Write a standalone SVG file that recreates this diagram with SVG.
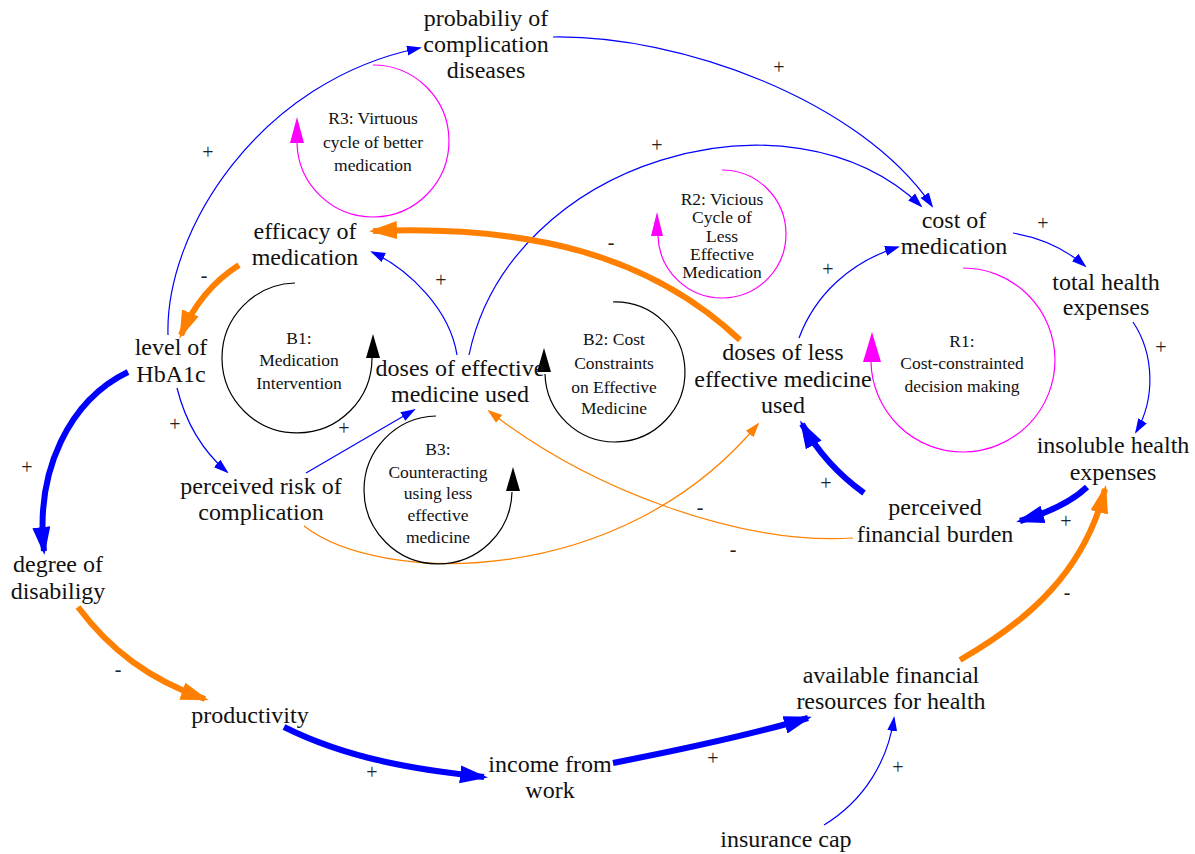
<svg xmlns="http://www.w3.org/2000/svg" width="1195" height="854" viewBox="0 0 1195 854">
<defs>
<style>
text{font-family:'Liberation Serif','Tinos','DejaVu Serif','Noto Serif',serif}
.n{font-size:24px;fill:#111;text-anchor:middle}
.l{font-size:17.5px;fill:#111;text-anchor:middle}
.s{font-size:20px;fill:#222;text-anchor:middle}
.bt{fill:none;stroke:#0000FF;stroke-width:1.2}
.bk{fill:none;stroke:#0000FF;stroke-width:6}
.ot{fill:none;stroke:#FF8000;stroke-width:1.2}
.ok{fill:none;stroke:#FF8000;stroke-width:6}
.lm{fill:none;stroke:#FF00FF;stroke-width:1.2}
.lk{fill:none;stroke:#000;stroke-width:1.2}
</style>
<marker id="hbt" markerUnits="userSpaceOnUse" markerWidth="16" markerHeight="12" refX="13" refY="5" orient="auto"><path d="M0,0 L15,5 L0,10 z" fill="#0000FF"/></marker>
<marker id="hot" markerUnits="userSpaceOnUse" markerWidth="16" markerHeight="12" refX="13" refY="5" orient="auto"><path d="M0,0 L15,5 L0,10 z" fill="#FF8000"/></marker>
<marker id="hbk" markerUnits="userSpaceOnUse" markerWidth="30" markerHeight="20" refX="24" refY="9" orient="auto"><path d="M0,0 L28,9 L0,18 z" fill="#0000FF"/></marker>
<marker id="hok" markerUnits="userSpaceOnUse" markerWidth="30" markerHeight="20" refX="24" refY="9" orient="auto"><path d="M0,0 L28,9 L0,18 z" fill="#FF8000"/></marker>
</defs>
<rect width="1195" height="854" fill="#fff"/>

<g id="connectors">
<path class="bt" marker-end="url(#hbt)" d="M168,335 C165,230 260,80 420,48"/>
<path class="bt" marker-end="url(#hbt)" d="M553,37 C680,35 860,100 932,206"/>
<path class="bt" marker-end="url(#hbt)" d="M469,355 C510,160 790,80 921,206"/>
<path class="bt" marker-end="url(#hbt)" d="M799,338 C815,295 850,262 898,247"/>
<path class="bt" marker-end="url(#hbt)" d="M1013,233 Q1055,240 1085,266"/>
<path class="bt" marker-end="url(#hbt)" d="M1133,322 C1155,355 1155,400 1136,432"/>
<path class="bk" marker-end="url(#hbk)" d="M1087,487 Q1065,508 1020,521"/>
<path class="bk" marker-end="url(#hbk)" d="M864,493 Q825,465 802,424"/>
<path class="ot" marker-end="url(#hot)" d="M853,538 C740,545 590,490 489,411"/>
<path class="ot" marker-end="url(#hot)" d="M304,526 C380,585 620,590 758,424"/>
<path class="bt" marker-end="url(#hbt)" d="M306,473 L414,410"/>
<path class="bt" marker-end="url(#hbt)" d="M177,388 Q190,440 227,472"/>
<path class="bt" marker-end="url(#hbt)" d="M457,355 C450,310 410,270 372,252"/>
<path class="ok" marker-end="url(#hok)" d="M740,340 C650,255 530,225 373,231"/>
<path class="ok" marker-end="url(#hok)" d="M239,265 Q200,290 181,335"/>
<path class="bk" marker-end="url(#hbk)" d="M128,372 C70,400 35,470 44,551"/>
<path class="ok" marker-end="url(#hok)" d="M78,607 C110,650 150,680 205,699"/>
<path class="bk" marker-end="url(#hbk)" d="M284,727 C350,760 420,770 484,777"/>
<path class="bk" marker-end="url(#hbk)" d="M613,763 C690,748 750,735 808,718"/>
<path class="bt" marker-end="url(#hbt)" d="M824,825 C865,800 888,760 894,718"/>
<path class="ok" marker-end="url(#hok)" d="M960,660 C1030,620 1085,570 1105,489"/>
</g>

<g id="polarity">
<text class="s" x="208" y="159">+</text>
<text class="s" x="779" y="74">+</text>
<text class="s" x="657" y="152">+</text>
<text class="s" x="611" y="249">-</text>
<text class="s" x="441" y="287">+</text>
<text class="s" x="204" y="282">-</text>
<text class="s" x="1043" y="230">+</text>
<text class="s" x="828" y="276">+</text>
<text class="s" x="1161" y="354">+</text>
<text class="s" x="175" y="431">+</text>
<text class="s" x="344" y="435">+</text>
<text class="s" x="27" y="474">+</text>
<text class="s" x="826" y="490">+</text>
<text class="s" x="1066" y="528">+</text>
<text class="s" x="700" y="514">-</text>
<text class="s" x="733" y="556">-</text>
<text class="s" x="1067" y="599">-</text>
<text class="s" x="118" y="676">-</text>
<text class="s" x="372" y="779">+</text>
<text class="s" x="713" y="765">+</text>
<text class="s" x="898" y="774">+</text>
</g>

<g id="loop-R3">
<path class="lm" d="M373,65 A76,76 0 1 1 297,143"/>
<polygon points="297,117 290,143 304,143" fill="#FF00FF"/>
<text class="l" x="373" y="124">R3: Virtuous</text>
<text class="l" x="373" y="148">cycle of better</text>
<text class="l" x="373" y="171">medication</text>
</g>
<g id="loop-R2">
<path class="lm" d="M722,170 A64,64 0 1 1 658,236"/>
<polygon points="657,212 651,236 663,236" fill="#FF00FF"/>
<text class="l" x="722" y="205">R2: Vicious</text>
<text class="l" x="722" y="223">Cycle of</text>
<text class="l" x="722" y="242">Less</text>
<text class="l" x="722" y="260">Effective</text>
<text class="l" x="722" y="278">Medication</text>
</g>
<g id="loop-R1">
<path class="lm" d="M963,268 A92,92 0 1 1 871,362"/>
<polygon points="872,332 863,362 881,362" fill="#FF00FF"/>
<text class="l" x="962" y="347">R1:</text>
<text class="l" x="962" y="369">Cost-constrainted</text>
<text class="l" x="962" y="392">decision making</text>
</g>
<g id="loop-B1">
<path class="lk" d="M295,283 A75,75 0 1 0 372,358"/>
<polygon points="373,334 366,358 380,358" fill="#000"/>
<text class="l" x="299" y="344">B1:</text>
<text class="l" x="299" y="366">Medication</text>
<text class="l" x="299" y="389">Intervention</text>
</g>
<g id="loop-B2">
<path class="lk" d="M613,302 A70,70 0 1 1 545,374"/>
<polygon points="544,348 537,372 551,372" fill="#000"/>
<text class="l" x="614" y="345">B2:  Cost</text>
<text class="l" x="614" y="369">Constraints</text>
<text class="l" x="614" y="393">on Effective</text>
<text class="l" x="614" y="414">Medicine</text>
</g>
<g id="loop-B3">
<path class="lk" d="M436,416 A74,74 0 1 0 512,492"/>
<polygon points="513,467 506,491 520,491" fill="#000"/>
<text class="l" x="438" y="455">B3:</text>
<text class="l" x="438" y="478">Counteracting</text>
<text class="l" x="438" y="499">using less</text>
<text class="l" x="438" y="521">effective</text>
<text class="l" x="438" y="543">medicine</text>
</g>

<g id="n-probability"><text class="n" x="486" y="26">probabiliy of</text><text class="n" x="486" y="52">complication</text><text class="n" x="486" y="78">diseases</text></g>
<g id="n-efficacy"><text class="n" x="305" y="239">efficacy of</text><text class="n" x="305" y="265">medication</text></g>
<g id="n-cost"><text class="n" x="954" y="228">cost of</text><text class="n" x="954" y="254">medication</text></g>
<g id="n-total"><text class="n" x="1106" y="290">total health</text><text class="n" x="1106" y="315">expenses</text></g>
<g id="n-hba1c"><text class="n" x="171" y="355">level of</text><text class="n" x="171" y="382">HbA1c</text></g>
<g id="n-effective"><text class="n" x="460" y="376">doses of effective</text><text class="n" x="460" y="402">medicine used</text></g>
<g id="n-less"><text class="n" x="783" y="360">doses of less</text><text class="n" x="783" y="387">effective medicine</text><text class="n" x="783" y="413">used</text></g>
<g id="n-insoluble"><text class="n" x="1113" y="453">insoluble health</text><text class="n" x="1113" y="480">expenses</text></g>
<g id="n-risk"><text class="n" x="261" y="494">perceived risk of</text><text class="n" x="261" y="520">complication</text></g>
<g id="n-burden"><text class="n" x="935" y="515">perceived</text><text class="n" x="935" y="542">financial burden</text></g>
<g id="n-disability"><text class="n" x="58" y="572">degree of</text><text class="n" x="58" y="599">disabiligy</text></g>
<g id="n-productivity"><text class="n" x="250" y="723">productivity</text></g>
<g id="n-income"><text class="n" x="550" y="772">income from</text><text class="n" x="550" y="798">work</text></g>
<g id="n-available"><text class="n" x="891" y="683">available financial</text><text class="n" x="891" y="709">resources for health</text></g>
<g id="n-insurance"><text class="n" x="786" y="847">insurance cap</text></g>
</svg>
